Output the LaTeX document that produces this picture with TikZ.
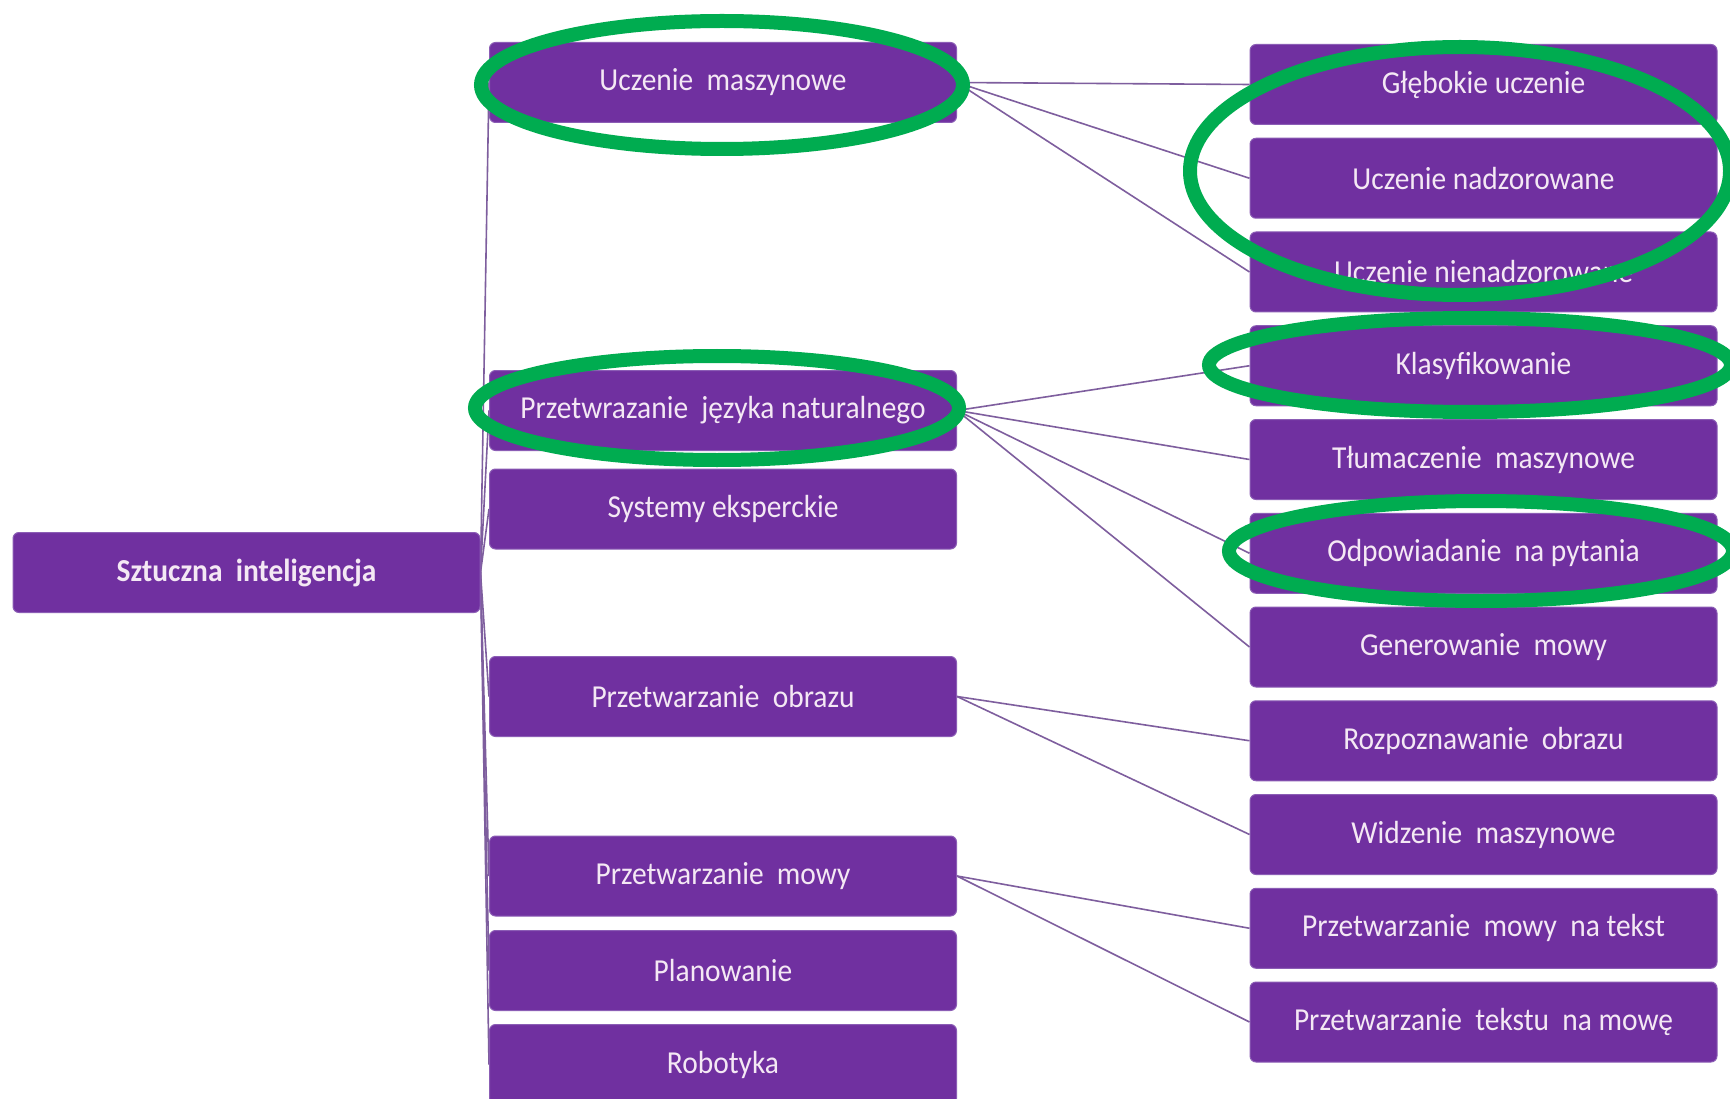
\documentclass[tikz,border=0pt]{standalone}
\usepackage{fontspec}
\setmainfont{Carlito}[FakeStretch=0.92]
\usetikzlibrary{backgrounds}
\definecolor{boxpurple}{HTML}{7030A0}
\definecolor{boxedge}{HTML}{8B5DB5}
\definecolor{linkpurple}{HTML}{7E5E9E}
\definecolor{boxtext}{HTML}{F4E8F4}
\definecolor{markgreen}{HTML}{00AC50}
\begin{document}
\begin{tikzpicture}[x=1pt,y=-1pt,
  box/.style={draw=boxedge, line width=1pt, fill=boxpurple, rounded corners=6pt,
    minimum width=467pt, minimum height=80pt, inner sep=0pt,
    text=boxtext, font=\fontsize{32}{38}\selectfont},
  rootbox/.style={box, font=\fontsize{32}{38}\selectfont\bfseries},
  link/.style={draw=linkpurple, line width=1.6pt},
  greenring/.style={draw=markgreen, line width=14pt}]
\useasboundingbox (0,0) rectangle (1730,1099);
\clip (0,0) rectangle (1730,1099);

% root
\node[rootbox] (ai) at (246.5,572.5) {Sztuczna\ \ inteligencja};

% middle column
\node[box] (um)  at (723,82.5)   {Uczenie\ \ maszynowe};
\node[box] (pjn) at (723,410.5)  {Przetwrazanie\ \ języka naturalnego};
\node[box] (se)  at (723,509)    {Systemy eksperckie};
\node[box] (po)  at (723,696.5)  {Przetwarzanie\ \ obrazu};
\node[box] (pm)  at (723,876)    {Przetwarzanie\ \ mowy};
\node[box] (pl)  at (723,970.5)  {Planowanie};
\node[box] (rb)  at (723,1064.5) {Robotyka};

% right column
\node[box] (gu) at (1483.5,84.5)   {Głębokie uczenie};
\node[box] (un) at (1483.5,178.25) {Uczenie nadzorowane};
\node[box] (uz) at (1483.5,272)    {Uczenie nienadzorowane};
\node[box] (kl) at (1483.5,365.75) {Klasyfikowanie};
\node[box] (tm) at (1483.5,459.5)  {Tłumaczenie\ \ maszynowe};
\node[box] (op) at (1483.5,553.25) {Odpowiadanie\ \ na pytania};
\node[box] (gm) at (1483.5,647)    {Generowanie\ \ mowy};
\node[box] (ro) at (1483.5,740.75) {Rozpoznawanie\ \ obrazu};
\node[box] (wm) at (1483.5,834.5)  {Widzenie\ \ maszynowe};
\node[box] (mt) at (1483.5,928.25) {Przetwarzanie\ \ mowy\ \ na tekst};
\node[box] (tw) at (1483.5,1022)   {Przetwarzanie\ \ tekstu\ \ na mowę};

\begin{scope}[on background layer]
  \fill[white] (0,0) rectangle (1730,1099);
  \foreach \c in {um,pjn,se,po,pm,pl,rb}
    \draw[link] (ai.east) -- (\c.west);
  \foreach \c in {gu,un,uz}
    \draw[link] (um.east) -- (\c.west);
  \foreach \c in {kl,tm,op,gm}
    \draw[link] (pjn.east) -- (\c.west);
  \foreach \c in {ro,wm}
    \draw[link] (po.east) -- (\c.west);
  \foreach \c in {mt,tw}
    \draw[link] (pm.east) -- (\c.west);
\end{scope}

% green highlight ellipses
\draw[greenring] (722,85) ellipse [x radius=241, y radius=64];
\draw[greenring] (717,408) ellipse [x radius=242, y radius=52];
\draw[greenring] (1460,171) ellipse [x radius=270, y radius=124];
\draw[greenring] (1470,365) ellipse [x radius=261, y radius=47];
\draw[greenring] (1481,551) ellipse [x radius=252, y radius=50];
\end{tikzpicture}
\end{document}
